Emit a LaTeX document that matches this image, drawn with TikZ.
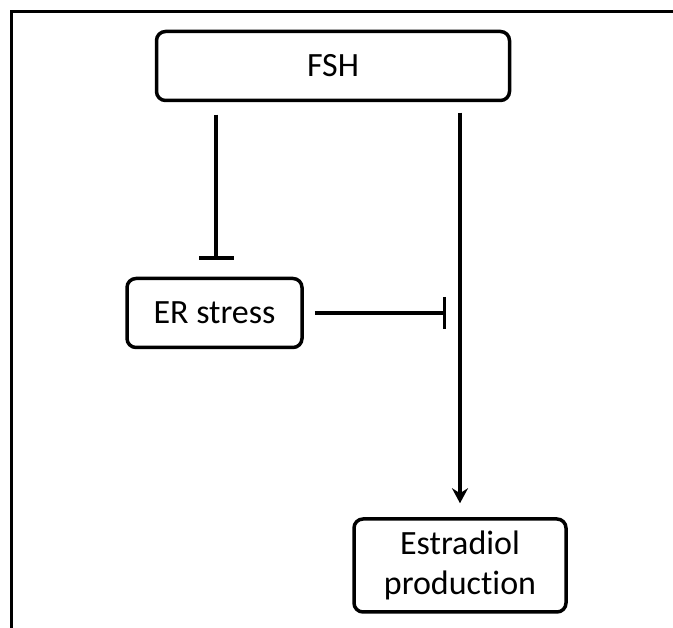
\documentclass[tikz,border=0pt]{standalone}
\usepackage{fontspec}
\setmainfont{Carlito}[Ligatures=NoCommon]
\usetikzlibrary{arrows.meta}
\begin{document}
\begin{tikzpicture}[x=1pt,y=-1pt,
  box/.style={draw, line width=3.5pt, rounded corners=9pt, inner sep=0pt,
    font=\fontsize{34}{40}\selectfont, align=center},
  conn/.style={line width=3.5pt},
  inh/.style={conn, -{Bar[width=#1,line width=3.5pt]}},
  act/.style={conn, -{Stealth[length=15pt,width=16pt,inset=5pt]}},
  frame/.style={line width=3pt}
]
\useasboundingbox (0,0) rectangle (673,628);
% frame
\coordinate (f1) at (11,628);
\coordinate (f2) at (11,12);
\coordinate (f3) at (673,12);
\draw[frame] (f1) -- (f2) -- (f3);
% nodes
\node[box, minimum width=353pt, minimum height=69pt] (fsh) at (333,66) {FSH};
\node[box, minimum width=175pt, minimum height=69pt] (er) at (214.5,313) {ER stress};
\node[box, minimum width=212pt, minimum height=93pt] (est) at (460,565.5) {Estradiol\\production};
% helper coordinates
\coordinate (x1) at (216,0);
\coordinate (x2) at (460,0);
\coordinate (c) at (446,313);
% connectors
\draw[inh=35pt, shorten <=12.5pt, shorten >=17pt] (fsh.south -| x1) -- (er.north -| x1);
\draw[act, shorten <=10.5pt, shorten >=14pt] (fsh.south -| x2) -- (est.north -| x2);
\draw[inh=32pt, shorten <=11pt] (er.east) -- (c);
\end{tikzpicture}
\end{document}
